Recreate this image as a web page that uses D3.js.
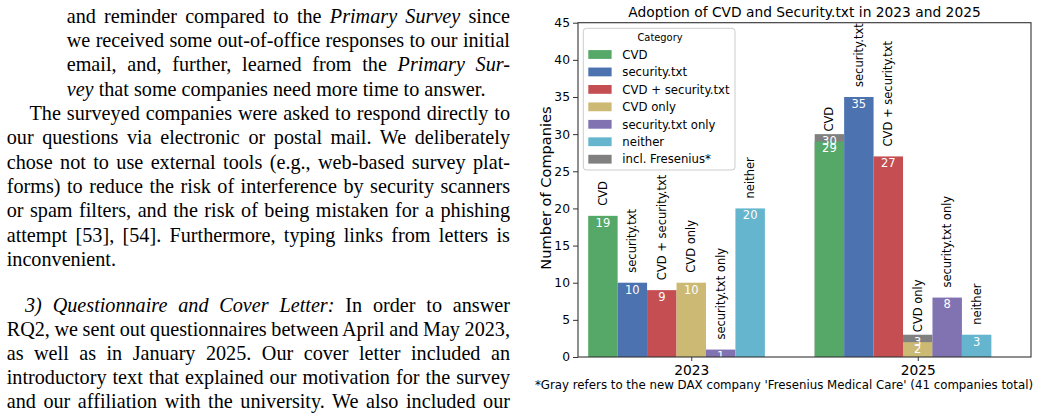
<!DOCTYPE html>
<html>
<head>
<meta charset="utf-8">
<script src="https://cdn.jsdelivr.net/npm/d3@7"></script>
<style>
  body { margin: 0; background: #fff; }
  svg text { font-family: "DejaVu Sans", sans-serif; }
  .paper { font-family: "Liberation Serif", "Times New Roman", serif; font-size: 20.2px; fill: #000; }
</style>
</head>
<body>
<svg id="page" width="1041" height="416"></svg>
<script>
// chart data
const categories = ["CVD", "security.txt", "CVD + security.txt", "CVD only", "security.txt only", "neither"];
const years = ["2023", "2025"];
const values2023 = [19, 10, 9, 10, 1, 20];
const values2025 = [29, 35, 27, 2, 8, 3];
// totals including Fresenius (only drawn where it changes the bar)
const fresenius2023 = [null, null, null, null, null, null];
const fresenius2025 = [30, null, null, 3, null, null];
const yTicks = [0, 5, 10, 15, 20, 25, 30, 35, 40, 45];
const colors = ["#55a868", "#4c72b0", "#c44e52", "#ccb974", "#8172b2", "#64b5cd"];
const grayColor = "#808080";
const legendLabels = categories.concat(["incl. Fresenius*"]);

// paper text next to the figure, *...* marks italics
const paperLines = [
    { text: "and reminder compared to the *Primary Survey* since", x: 66.7, justify: true },
    { text: "we received some out-of-office responses to our initial", x: 66.7, justify: true },
    { text: "email, and, further, learned from the *Primary Sur-*", x: 66.7, justify: true },
    { text: "*vey* that some companies need more time to answer.", x: 66.7, justify: false },
    { text: "The surveyed companies were asked to respond directly to", x: 29.5, justify: true },
    { text: "our questions via electronic or postal mail. We deliberately", x: 6.7, justify: true },
    { text: "chose not to use external tools (e.g., web-based survey plat-", x: 6.7, justify: true },
    { text: "forms) to reduce the risk of interference by security scanners", x: 6.7, justify: true },
    { text: "or spam filters, and the risk of being mistaken for a phishing", x: 6.7, justify: true },
    { text: "attempt [53], [54]. Furthermore, typing links from letters is", x: 6.7, justify: true },
    { text: "inconvenient.", x: 6.7, justify: false },
    { text: "*3) Questionnaire and Cover Letter:* In order to answer", x: 25, justify: true },
    { text: "RQ2, we sent out questionnaires between April and May 2023,", x: 6.7, justify: true },
    { text: "as well as in January 2025. Our cover letter included an", x: 6.7, justify: true },
    { text: "introductory text that explained our motivation for the survey", x: 6.7, justify: true },
    { text: "and our affiliation with the university. We also included our", x: 6.7, justify: true }
];

const svg = d3.select("#page");

// ---- left column text ----
const textRight = 510;
paperLines.forEach((ln, i) => {
    const baseY = i < 11 ? 22.7 + i * 24.33 : 311.7 + (i - 11) * 24.1;
    const t = svg.append("text").attr("class", "paper").attr("x", ln.x).attr("y", baseY);
    ln.text.split("*").forEach((part, k) => {
        if (!part) return;
        t.append("tspan").text(part).style("font-style", k % 2 ? "italic" : "normal");
    });
    if (ln.justify) {
        const w = t.node().getComputedTextLength();
        const spaces = (ln.text.match(/ /g) || []).length;
        t.style("word-spacing", ((textRight - ln.x - w) / spaces) + "px");
    }
});

// ---- chart ----
const x0 = d3.scalePoint().domain(years).range([578, 1031]).padding(0.5);
const barW = x0.step() * 0.13;
const x1 = d3.scaleBand().domain(categories).range([-3.5 * barW, 2.5 * barW]);
const y = d3.scaleLinear().domain([0, 45]).range([357, 22.7]);

const series = [
    { year: "2023", values: values2023, extra: fresenius2023 },
    { year: "2025", values: values2025, extra: fresenius2025 }
];

const groups = svg.selectAll(".year")
    .data(series)
    .join("g")
    .attr("class", "year")
    .attr("transform", d => `translate(${x0(d.year)},0)`);

groups.each(function(s) {
    const g = d3.select(this);
    const rows = categories.map((c, i) => ({ cat: c, i: i, v: s.values[i], extra: s.extra[i] }));

    // gray part (incl. Fresenius) sits behind the coloured bar
    g.selectAll(".gray")
        .data(rows.filter(d => d.extra != null))
        .join("rect")
        .attr("x", d => x1(d.cat))
        .attr("width", x1.bandwidth())
        .attr("y", d => y(d.extra))
        .attr("height", d => y(0) - y(d.extra))
        .attr("fill", grayColor);

    g.selectAll(".bar")
        .data(rows)
        .join("rect")
        .attr("x", d => x1(d.cat))
        .attr("width", x1.bandwidth())
        .attr("y", d => y(d.v))
        .attr("height", d => y(0) - y(d.v))
        .attr("fill", d => colors[d.i]);

    // values inside the bars
    g.selectAll(".gval")
        .data(rows.filter(d => d.extra != null))
        .join("text")
        .attr("x", d => x1(d.cat) + x1.bandwidth() / 2)
        .attr("y", d => y(d.extra) + 10.8)
        .attr("text-anchor", "middle")
        .attr("fill", "#fff")
        .style("font-size", "11.5px")
        .text(d => d.extra);

    g.selectAll(".val")
        .data(rows)
        .join("text")
        .attr("x", d => x1(d.cat) + x1.bandwidth() / 2)
        .attr("y", d => y(d.v) + 10.8)
        .attr("text-anchor", "middle")
        .attr("fill", "#fff")
        .style("font-size", "11.5px")
        .text(d => d.v);

    // rotated category names above bars
    g.selectAll(".cat")
        .data(rows)
        .join("text")
        .attr("transform", d => `translate(${x1(d.cat) + x1.bandwidth() / 2},${y(d.v) - 10}) rotate(-90)`)
        .attr("text-anchor", "start")
        .attr("dominant-baseline", "central")
        .attr("fill", "#000")
        .style("font-size", "11.5px")
        .text(d => d.cat);
});

// axes
const yAxis = svg.append("g")
    .attr("transform", "translate(578,0)")
    .call(d3.axisLeft(y).tickValues(yTicks).tickSize(5).tickPadding(3));
yAxis.select(".domain").remove();
yAxis.selectAll("text").style("font-size", "12.3px").attr("fill", "#000");
yAxis.selectAll("line").attr("stroke", "#333");

const xAxis = svg.append("g")
    .attr("transform", "translate(0,357)")
    .call(d3.axisBottom(x0).tickSize(4).tickPadding(4));
xAxis.select(".domain").remove();
xAxis.selectAll("text").style("font-size", "13.8px").attr("fill", "#000");
xAxis.selectAll("line").attr("stroke", "#333");

// frame
svg.append("rect")
    .attr("x", 578).attr("y", 22.7)
    .attr("width", 1031 - 578).attr("height", 357 - 22.7)
    .attr("fill", "none")
    .attr("stroke", "#333")
    .attr("stroke-width", 1.1);

// titles
svg.append("text")
    .attr("x", (578 + 1031) / 2).attr("y", 17)
    .attr("text-anchor", "middle")
    .style("font-size", "13.8px")
    .text("Adoption of CVD and Security.txt in 2023 and 2025");

svg.append("text")
    .attr("transform", "translate(545,188) rotate(-90)")
    .attr("text-anchor", "middle")
    .attr("dominant-baseline", "central")
    .style("font-size", "14.6px")
    .text("Number of Companies");

svg.append("text")
    .attr("x", 784).attr("y", 388.5)
    .attr("text-anchor", "middle")
    .style("font-size", "11.8px")
    .text("*Gray refers to the new DAX company 'Fresenius Medical Care' (41 companies total)");

// legend
const legend = svg.append("g").attr("transform", "translate(583.3,28.3)");
legend.append("rect")
    .attr("width", 151.7).attr("height", 141.7)
    .attr("rx", 3)
    .attr("fill", "#fff").attr("fill-opacity", 0.8)
    .attr("stroke", "#ccc");
legend.append("text")
    .attr("x", 76.7).attr("y", 13)
    .attr("text-anchor", "middle")
    .style("font-size", "9.9px")
    .text("Category");
const items = legend.selectAll(".item")
    .data(legendLabels)
    .join("g")
    .attr("transform", (d, i) => `translate(0,${26.2 + i * 17.45})`);
items.append("rect")
    .attr("x", 5).attr("y", -4.4)
    .attr("width", 23.3).attr("height", 8.8)
    .attr("fill", (d, i) => i < colors.length ? colors[i] : grayColor);
items.append("text")
    .attr("x", 39).attr("y", 4.2)
    .style("font-size", "11.7px")
    .text(d => d);
</script>
</body>
</html>
